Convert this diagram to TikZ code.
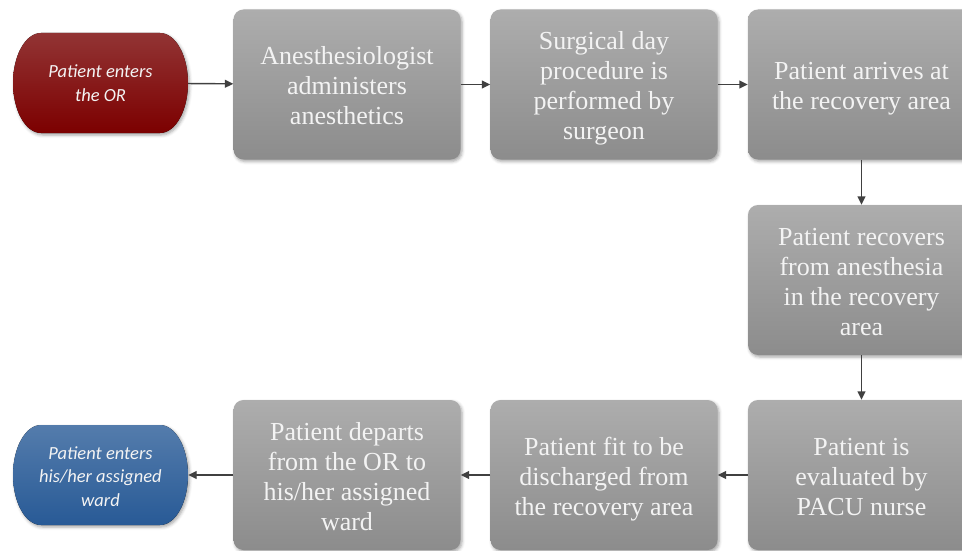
\documentclass[tikz,border=0pt]{standalone}
\usepackage{fontspec}
\setmainfont{Liberation Serif}
\newfontfamily\termfont{Carlito Italic}
\usetikzlibrary{arrows.meta,shadows.blur}

\definecolor{boxtop}{RGB}{173,173,173}
\definecolor{boxbot}{RGB}{140,140,140}
\definecolor{boxtext}{RGB}{243,243,243}
\definecolor{redtop}{RGB}{146,52,52}
\definecolor{redbot}{RGB}{124,0,0}
\definecolor{bluetop}{RGB}{84,124,172}
\definecolor{bluebot}{RGB}{40,90,150}
\definecolor{arrowgray}{RGB}{64,64,64}

\begin{document}
\begin{tikzpicture}[x=1pt,y=-1pt,
  softshadow/.style={blur shadow={shadow xshift=1.5pt, shadow yshift=-2pt,
      shadow blur radius=3pt, shadow opacity=35}},
  stepbox/.style={rectangle, rounded corners=10pt, softshadow,
    minimum width=227pt, minimum height=150pt, inner sep=0pt,
    top color=boxtop, bottom color=boxbot,
    text=boxtext, align=flush center, text width=215pt,
    execute at begin node={\rule{0pt}{28pt}},
    execute at end node={\rule[-7pt]{0pt}{7pt}},
    font=\fontsize{26}{30}\selectfont},
  termtext/.style={rectangle, minimum width=175pt, minimum height=100pt,
    inner sep=0pt, text=boxtext, align=center,
    font=\termfont\fontsize{18.5}{23.5}\selectfont},
  flow/.style={draw=arrowgray, line width=1.4pt,
    -{Triangle[length=8.5pt,width=8pt]}}]

\useasboundingbox (0,0) rectangle (962,551);
\clip (0,0) rectangle (962,551);

% terminator outlines: flat top and bottom, elliptic ends
\coordinate (enterc) at (100.5,83);
\coordinate (wardc) at (100.5,475);
\fill[softshadow, top color=redtop, bottom color=redbot]
  ([shift={(-59.5pt,50pt)}]enterc) -- ++(119pt,0pt)
  arc[start angle=90, end angle=-90, x radius=28pt, y radius=50pt]
  -- ++(-119pt,0pt)
  arc[start angle=270, end angle=90, x radius=28pt, y radius=50pt] -- cycle;
\fill[softshadow, top color=bluetop, bottom color=bluebot]
  ([shift={(-59.5pt,50pt)}]wardc) -- ++(119pt,0pt)
  arc[start angle=90, end angle=-90, x radius=28pt, y radius=50pt]
  -- ++(-119pt,0pt)
  arc[start angle=270, end angle=90, x radius=28pt, y radius=50pt] -- cycle;

\node[termtext] (enter) at (enterc) {Patient enters\\the OR};
\node[termtext] (ward) at (100.5,476.5) {Patient enters\\his/her assigned\\ward};

% process steps
\node[stepbox] (anest) at (347,84.5) {Anesthesiologist\\administers\\anesthetics};
\node[stepbox] (surg) at (604,84.5) {Surgical day\\procedure is\\performed by\\surgeon};
\node[stepbox] (arrive) at (861.5,84.5) {Patient arrives at\\the recovery area};
\node[stepbox] (recover) at (861.5,280) {Patient recovers\\from anesthesia\\in the recovery\\area};
\node[stepbox] (eval) at (861.5,475) {Patient is\\evaluated by\\PACU nurse};
\node[stepbox] (fit) at (604,475) {Patient fit to be\\discharged from\\the recovery area};
\node[stepbox] (depart) at (347,475) {Patient departs\\from the OR to\\his/her assigned\\ward};

% connectors
\draw[flow] (enter) -- (anest);
\draw[flow] (anest) -- (surg);
\draw[flow] (surg) -- (arrive);
\draw[flow] (arrive) -- (recover);
\draw[flow] (recover) -- (eval);
\draw[flow] (eval) -- (fit);
\draw[flow] (fit) -- (depart);
\draw[flow] (depart.west) -- (depart.west -| ward.east);
\end{tikzpicture}
\end{document}
